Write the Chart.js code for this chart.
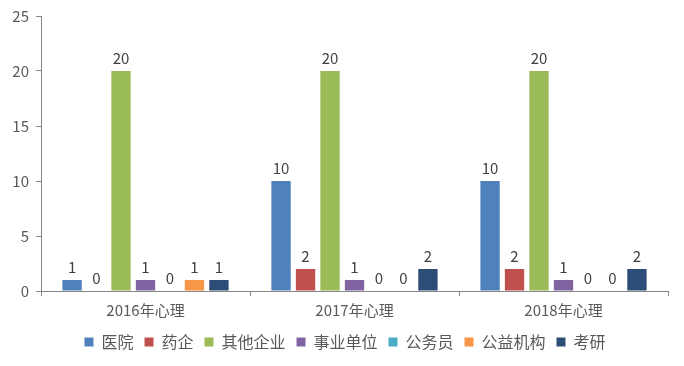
<!DOCTYPE html>
<html>
<head>
<meta charset="utf-8">
<script src="https://cdn.jsdelivr.net/npm/chart.js@4/dist/chart.umd.min.js"></script>
<style>
  html, body { margin: 0; padding: 0; background: #fff; }
  #wrap { width: 684px; height: 366px; position: relative; }
</style>
</head>
<body>
<div id="wrap"><canvas id="grafico"></canvas></div>
<script>
// Datos del gráfico
var categorias = ['2016年心理', '2017年心理', '2018年心理'];
var series = ['医院', '药企', '其他企业', '事业单位', '公务员', '公益机构', '考研'];
var yiyuan = [1, 10, 10];
var yaoqi = [0, 2, 2];
var qitaQiye = [20, 20, 20];
var shiyeDanwei = [1, 1, 1];
var gongwuyuan = [0, 0, 0];
var gongyiJigou = [1, 0, 0];
var kaoyan = [1, 2, 2];
var ticksY = [0, 5, 10, 15, 20, 25];

var colores = ['#4F81BD', '#C0504D', '#9BBB59', '#8064A2', '#4BACC6', '#F79646', '#2C4D75'];
var valores = [yiyuan, yaoqi, qitaQiye, shiyeDanwei, gongwuyuan, gongyiJigou, kaoyan];
var fuente = '"Noto Sans CJK SC", "DejaVu Sans", sans-serif';

// Etiquetas encima de cada barra (también los ceros)
var etiquetasPlugin = {
    id: 'etiquetas',
    beforeDraw: function(chart) {
        // centrar la leyenda con todo el ancho del lienzo
        if (chart.legend) {
            chart.legend.left = 11;
            chart.legend.right = chart.width - 5;
        }
    },
    afterDatasetsDraw: function(chart) {
        var ctx = chart.ctx;
        ctx.save();
        ctx.font = '15px ' + fuente;
        ctx.fillStyle = '#404040';
        ctx.textAlign = 'center';
        ctx.textBaseline = 'bottom';
        chart.data.datasets.forEach(function(ds, i) {
            var meta = chart.getDatasetMeta(i);
            meta.data.forEach(function(bar, j) {
                ctx.fillText(String(ds.data[j]), bar.x, bar.y - 5);
            });
        });
        ctx.restore();
    }
};

var ctx = document.getElementById('grafico').getContext('2d');
var grafico = new Chart(ctx, {
    type: 'bar',
    data: {
        labels: categorias,
        datasets: series.map(function(nombre, i) {
            return {
                label: nombre,
                data: valores[i],
                backgroundColor: colores[i],
                barPercentage: 0.79,
                categoryPercentage: 0.82
            };
        })
    },
    options: {
        responsive: true,
        maintainAspectRatio: false,
        animation: false,
        layout: { padding: { top: 16, right: 16, left: 0, bottom: 6 } },
        plugins: {
            tooltip: { enabled: false },
            legend: {
                position: 'bottom',
                labels: {
                    font: { family: fuente, size: 16 },
                    color: '#595959',
                    boxWidth: 9,
                    boxHeight: 9,
                    padding: 11
                }
            }
        },
        scales: {
            x: {
                grid: { drawOnChartArea: false, drawTicks: true, tickLength: 5, color: '#868686', offset: true },
                border: { color: '#868686', width: 1 },
                ticks: { font: { family: fuente, size: 15 }, color: '#595959', padding: 5 },
                afterFit: function(scale) { scale.height = 32; }
            },
            y: {
                min: 0,
                max: 25,
                afterBuildTicks: function(scale) {
                    scale.ticks = ticksY.map(function(v) { return { value: v }; });
                },
                grid: { drawOnChartArea: false, drawTicks: true, tickLength: 5, color: '#868686' },
                border: { color: '#868686', width: 1 },
                ticks: { font: { family: fuente, size: 15 }, color: '#595959', padding: 7 },
                afterFit: function(scale) { scale.width = 41; }
            }
        }
    },
    plugins: [etiquetasPlugin]
});
</script>
</body>
</html>
